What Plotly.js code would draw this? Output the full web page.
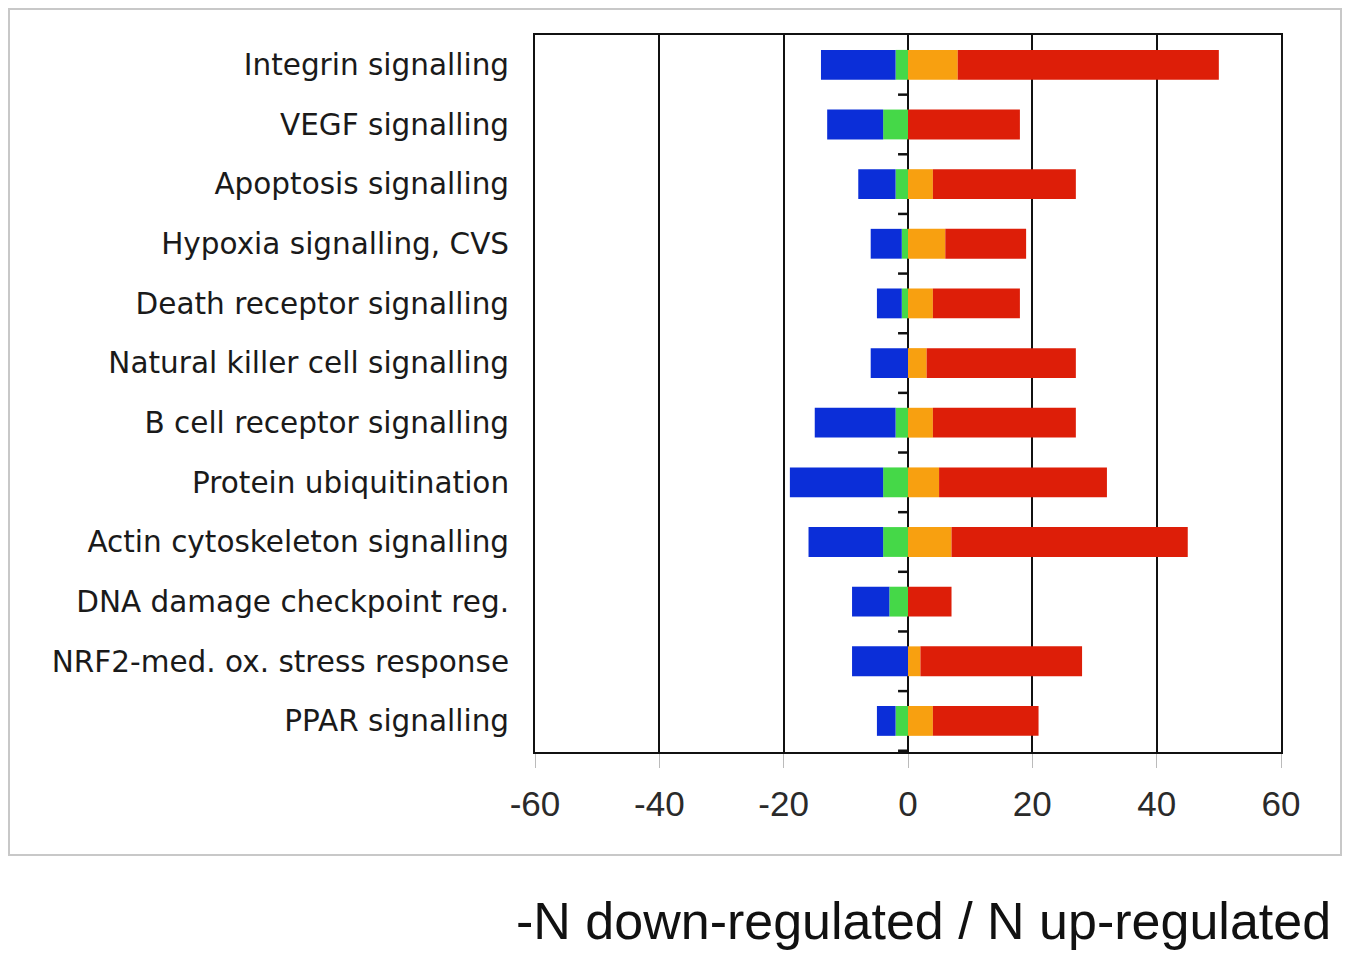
<!DOCTYPE html>
<html>
<head>
<meta charset="utf-8">
<script src="https://cdn.plot.ly/plotly-3.0.1.min.js"></script>
<style>
  html, body { margin: 0; padding: 0; background: #fff; }
  #chart { width: 1349px; height: 954px; }
</style>
</head>
<body>
<div id="chart"></div>
<script>
// Pathways, listed top to bottom
const pathways = [
  "Integrin signalling",
  "VEGF signalling",
  "Apoptosis signalling",
  "Hypoxia signalling, CVS",
  "Death receptor signalling",
  "Natural killer cell signalling",
  "B cell receptor signalling",
  "Protein ubiquitination",
  "Actin cytoskeleton signalling",
  "DNA damage checkpoint reg.",
  "NRF2-med. ox. stress response",
  "PPAR signalling"
];

// Down-regulated genes (drawn to the left of zero)
const downStrong = [12, 9, 6, 5, 4, 6, 13, 15, 12, 6, 9, 3];   // blue
const downWeak   = [2, 4, 2, 1, 1, 0, 2, 4, 4, 3, 0, 2];      // green

// Up-regulated genes (drawn to the right of zero)
const upWeak     = [8, 0, 4, 6, 4, 3, 4, 5, 7, 0, 2, 4];      // orange
const upStrong   = [42, 18, 23, 13, 14, 24, 23, 27, 38, 7, 26, 17]; // red

const xTicks = [-60, -40, -20, 0, 20, 40, 60];

const neg = a => a.map(v => -v);

const barBase = { type: "bar", orientation: "h", y: pathways, hoverinfo: "x+y" };

const traces = [
  Object.assign({}, barBase, { name: "down (weak)",   x: neg(downWeak),   marker: { color: "#45d848" } }),
  Object.assign({}, barBase, { name: "down (strong)", x: neg(downStrong), marker: { color: "#0b2ed8" } }),
  Object.assign({}, barBase, { name: "up (weak)",     x: upWeak,          marker: { color: "#f8a010" } }),
  Object.assign({}, barBase, { name: "up (strong)",   x: upStrong,        marker: { color: "#dd1e08" } })
];

// Plot area in pixels
const W = 1349, H = 954;
const M = { l: 535, r: 68, t: 35, b: 202 };
const pw = W - M.l - M.r, ph = H - M.t - M.b;
const px = x => (x - M.l) / pw;          // page px -> paper x
const py = y => (H - M.b - y) / ph;      // page px -> paper y

// Small ticks on the zero line, between neighbouring categories
const zeroTicks = pathways.map((_, i) => ({
  type: "line", xref: "x", yref: "y",
  x0: -1.6, x1: 0, y0: i + 0.5, y1: i + 0.5,
  line: { color: "#111111", width: 2.5 }, layer: "above"
}));

const layout = {
  width: W, height: H,
  margin: M,
  paper_bgcolor: "#ffffff",
  plot_bgcolor: "#ffffff",
  barmode: "relative",
  bargap: 0.5,
  showlegend: false,
  font: { family: "Liberation Sans, Arial, sans-serif", color: "#1a1a1a" },
  xaxis: {
    range: [-60, 60],
    tickvals: xTicks,
    ticktext: xTicks.map(String),
    ticks: "outside",
    ticklen: 14,
    tickwidth: 1,
    tickcolor: "#bbbbbb",
    ticklabelstandoff: 6,
    tickfont: { family: "Liberation Sans, Arial, sans-serif", size: 35, color: "#2a2a2a" },
    showgrid: true,
    gridcolor: "#111111",
    gridwidth: 2,
    zeroline: true,
    zerolinecolor: "#111111",
    zerolinewidth: 2.5,
    showline: true,
    linecolor: "#111111",
    linewidth: 2,
    mirror: true,
    fixedrange: true
  },
  yaxis: {
    type: "category",
    autorange: "reversed",
    categoryorder: "array",
    categoryarray: pathways,
    ticks: "",
    ticklabelstandoff: 18,
    tickfont: { family: "DejaVu Sans, sans-serif", size: 29.5, color: "#1a1a1a" },
    showline: true,
    linecolor: "#111111",
    linewidth: 2,
    mirror: true,
    showgrid: false,
    fixedrange: true
  },
  shapes: [
    { type: "rect", xref: "paper", yref: "paper",
      x0: px(9), x1: px(1341), y0: py(855), y1: py(9),
      line: { color: "#c8c8c8", width: 2 }, fillcolor: "rgba(0,0,0,0)", layer: "below" }
  ].concat(zeroTicks),
  annotations: [
    { text: "-N down-regulated / N up-regulated", xref: "paper", yref: "paper",
      x: px(1333), y: py(921), xanchor: "right", yanchor: "middle", showarrow: false,
      font: { family: "Liberation Sans, Arial, sans-serif", size: 52, color: "#111" } }
  ]
};

Plotly.newPlot("chart", traces, layout, { displayModeBar: false, staticPlot: true });
</script>
</body>
</html>
